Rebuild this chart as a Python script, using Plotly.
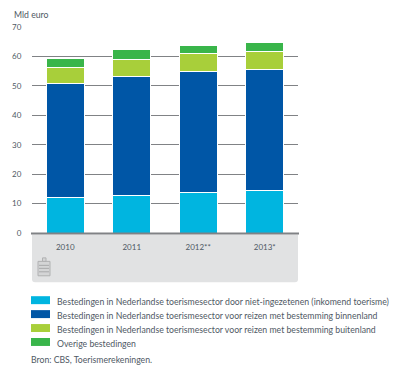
import plotly.graph_objects as go

years = ["2010", "2011", "2012**", "2013*"]
names = [
    "Bestedingen in Nederlandse toerismesector door niet-ingezetenen (inkomend toerisme)",
    "Bestedingen in Nederlandse toerismesector voor reizen met bestemming binnenland",
    "Bestedingen in Nederlandse toerismesector voor reizen met bestemming buitenland",
    "Overige bestedingen",
]
inkomend = [12.2, 12.6, 13.6, 14.5]
binnenland = [38.5, 40.5, 41.2, 40.9]
buitenland = [5.5, 5.8, 6.1, 6.2]
overig = [3.2, 3.3, 2.9, 3.2]
series = [inkomend, binnenland, buitenland, overig]
colors = ["#00b5e0", "#0056a6", "#a8cf3a", "#39b54a"]
source = "Bron: CBS, Toerismerekeningen."
unit = "Mld euro"

W, H = 410, 373
OFF = 8  # the page's default body margin
L, R, T, B = 32, 298, 26.5, 233.5
FONT = "Lato"
TXT = "#4f5964"
LEG = 8.7


def px(x):
    return (x - L) / (R - L)


def py(y):
    return (B - y) / (B - T)


fig = go.Figure()
for name, vals, col in zip(names, series, colors):
    fig.add_trace(go.Bar(x=years, y=vals, name=name, marker_color=col,
                         marker_line_color="white", marker_line_width=1,
                         width=0.57, showlegend=False))

shapes = []
# grey panel beneath the axis, rounded at the bottom corners
p = (f"M {px(32)} {py(235)} L {px(298)} {py(235)} L {px(298)} {py(280)} "
     f"Q {px(298)} {py(283)} {px(295)} {py(283)} L {px(35)} {py(283)} "
     f"Q {px(32)} {py(283)} {px(32)} {py(280)} Z")
shapes.append(dict(type="path", path=p, xref="paper", yref="paper",
                   fillcolor="#e1e2e3", line_width=0, layer="below"))
# baseline
shapes.append(dict(type="rect", xref="paper", yref="paper", x0=px(31), x1=px(299),
                   y0=py(235), y1=py(233), fillcolor="#808285", line_width=0))
# small table icon
for x0, y0, x1, y1 in [(38, 262, 50, 276.5), (42.5, 258.5, 46, 262)]:
    shapes.append(dict(type="rect", xref="paper", yref="paper",
                       x0=px(x0), x1=px(x1), y0=py(y0), y1=py(y1),
                       fillcolor="#d4d5d6", line=dict(color="#b0b1b2", width=1)))
for yy in [266, 269, 272.5]:
    shapes.append(dict(type="line", xref="paper", yref="paper",
                       x0=px(39), x1=px(49), y0=py(yy), y1=py(yy),
                       line=dict(color="#a8a9aa", width=1)))

annotations = [dict(text=unit, xref="paper", yref="paper", x=px(12), y=py(14),
                    xanchor="left", yanchor="middle", showarrow=False,
                    font=dict(family=FONT, size=LEG, color=TXT))]
swatch_y = [301, 315, 329, 343]
text_y = [302, 316, 330, 344.5]
for name, col, sy, ty in zip(names, colors, swatch_y, text_y):
    shapes.append(dict(type="rect", xref="paper", yref="paper", x0=px(31), x1=px(50),
                       y0=py(sy - 4), y1=py(sy + 4), fillcolor=col, line_width=0))
    annotations.append(dict(text=name, xref="paper", yref="paper", x=px(54.5), y=py(ty),
                            xanchor="left", yanchor="middle", showarrow=False,
                            font=dict(family=FONT, size=LEG, color=TXT)))
annotations.append(dict(text=source, xref="paper", yref="paper", x=px(29), y=py(361),
                        xanchor="left", yanchor="middle", showarrow=False,
                        font=dict(family=FONT, size=LEG, color=TXT)))

fig.update_layout(
    width=W - OFF, height=H - OFF, barmode="stack", autosize=False,
    margin=dict(l=L - OFF, r=W - R, t=T - OFF, b=H - B, pad=0),
    paper_bgcolor="white", plot_bgcolor="white",
    font=dict(family=FONT, size=8, color=TXT),
    shapes=shapes, annotations=annotations,
    xaxis=dict(showgrid=False, zeroline=False, showline=False, ticks="outside", automargin=False,
               ticklen=6, tickcolor="rgba(0,0,0,0)", tickfont=dict(size=8, color=TXT)),
    yaxis=dict(range=[0, 70], tickvals=[0, 10, 20, 30, 40, 50, 60, 70], automargin=False,
               showgrid=True, gridcolor="#808285", gridwidth=1, zeroline=False,
               showline=False, ticks="outside", ticklen=8, tickcolor="rgba(0,0,0,0)",
               tickfont=dict(size=8, color=TXT)),
)
fig.write_html("out.html")
